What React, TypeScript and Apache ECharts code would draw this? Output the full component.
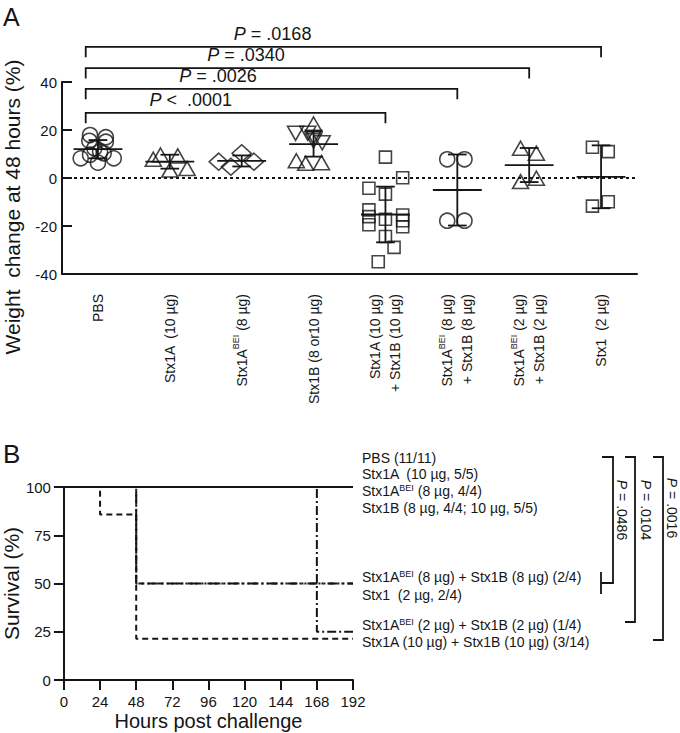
import React, { useEffect, useRef } from 'react';
import * as echarts from 'echarts';

const FONT = '"Liberation Sans", Arial, Helvetica, sans-serif';
const INK = '#151515';

// ---------- Panel A data ----------
const groupNames = [
  'PBS',
  'Stx1A  (10 µg)',
  'Stx1ABEI (8 µg)',
  'Stx1B (8 or10 µg)',
  'Stx1A (10 µg)\n+ Stx1B (10 µg)',
  'Stx1ABEI (8 µg)\n+ Stx1B (8 µg)',
  'Stx1ABEI (2 µg)\n+ Stx1B (2 µg)',
  'Stx1  (2 µg)',
];

const pbsWeight = [17.9, 15.5, 17.0, 15.1, 12.4, 11.0, 8.2, 6.4, 8.2, 10.3, 9.7];
const pbsJitter = [-0.11, -0.12, 0.11, 0.11, -0.05, 0.03, -0.24, 0, 0.22, 0.08, -0.11];

const stx1aWeight = [7.8, 9.6, 9.2, 3.3, 4.0];
const stx1aJitter = [-0.23, -0.13, 0.11, 0, 0.24];

const stx1aBeiWeight = [6.8, 4.7, 10.3, 6.8];
const stx1aBeiJitter = [-0.32, -0.15, 0, 0.17];

const stx1bWeight = [22.5, 7.2, 6.1, 6.4, 18.6, 18.6, 14.7, 17.0, 15.5];
const stx1bJitter = [0, -0.24, -0.11, 0.11, -0.25, -0.08, 0.12, 0, 0];
const stx1bDown = [false, false, false, false, true, true, true, true, true];

const combo10Weight = [8.7, 0.1, -4.3, -6.7, -13.3, -16.1, -19.5, -17.2, -15.4, -17.8, -20.3, -24.4, -28.9, -34.9];
const combo10Jitter = [0, 0.24, -0.23, 0, -0.23, -0.23, -0.23, 0, 0.24, 0.24, 0.24, 0, 0.12, -0.1];

const combo8Weight = [7.8, 7.8, -17.8, -17.8];
const combo8Jitter = [-0.14, 0.1, -0.14, 0.1];

const combo2Weight = [12.4, 10.3, -1.5, -0.1];
const combo2Jitter = [-0.12, 0.1, -0.12, 0.1];

const stx1Weight = [12.8, 11.0, -11.7, -9.9];
const stx1Jitter = [-0.12, 0.1, -0.12, 0.1];

const weightMean = [12.0, 6.8, 7.1, 14.1, -15.2, -5.0, 5.4, 0.5];
const weightSD = [3.8, 2.9, 2.3, 5.2, 11.6, 14.8, 7.1, 13.1];

const bracketTargets = [4, 5, 6, 7];
const bracketPValues = ['<  .0001', '= .0026', '= .0340', '= .0168'];
const bracketLevels = [27.1, 37.1, 45.8, 54.6];
const bracketLabelAt = [1.29, 1.67, 2.06, 2.43];

// ---------- Panel B data ----------
const survAllSurvive = [[0, 100], [192, 100]];
const survCombo10 = [[0, 100], [24, 85.7], [48, 21.4], [192, 21.4]];
const survCombo8 = [[0, 100], [48, 50], [192, 50]];
const survStx1 = [[0, 100], [48, 50], [192, 50]];
const survCombo2 = [[0, 100], [168, 25], [192, 25]];

const survLabels = [
  'PBS (11/11)',
  'Stx1A  (10 µg, 5/5)',
  'Stx1ABEI (8 µg, 4/4)',
  'Stx1B (8 µg, 4/4; 10 µg, 5/5)',
  'Stx1ABEI (8 µg) + Stx1B (8 µg) (2/4)',
  'Stx1  (2 µg, 2/4)',
  'Stx1ABEI (2 µg) + Stx1B (2 µg) (1/4)',
  'Stx1A (10 µg) + Stx1B (10 µg) (3/14)',
];
const survPValues = ['= .0486', '= .0104', '= .0016'];

// ---------- helpers ----------
const sup = (s: string) => s.replace(/BEI/g, '{sup|BEI}');

function scatterSeries(values: number[], jitter: number[], gi: number, symbol: string, size: any, down?: boolean[]) {
  return {
    type: 'scatter',
    xAxisIndex: 1,
    yAxisIndex: 0,
    symbol,
    symbolSize: size,
    itemStyle: { color: 'rgba(0,0,0,0)', borderColor: INK, borderWidth: 1.6 },
    z: 2,
    data: values.map((v, j) => ({
      value: [gi + jitter[j], v],
      symbolRotate: down && down[j] ? 180 : 0,
    })),
  };
}

function buildOption() {
  const textBase = { fontFamily: FONT, fill: INK };
  const series: any[] = [
    {
      ...scatterSeries(pbsWeight, pbsJitter, 0, 'circle', 15),
      markLine: {
        silent: true,
        symbol: ['none', 'none'],
        label: { show: false },
        lineStyle: { color: INK, type: [3, 3], width: 1.8 },
        data: [{ yAxis: 0 }],
      },
    },
    scatterSeries(stx1aWeight, stx1aJitter, 1, 'triangle', [16, 14]),
    scatterSeries(stx1aBeiWeight, stx1aBeiJitter, 2, 'diamond', [19, 17]),
    scatterSeries(stx1bWeight, stx1bJitter, 3, 'triangle', [16, 14], stx1bDown),
    scatterSeries(combo10Weight, combo10Jitter, 4, 'rect', 12),
    scatterSeries(combo8Weight, combo8Jitter, 5, 'circle', 15),
    scatterSeries(combo2Weight, combo2Jitter, 6, 'triangle', [16, 14]),
    scatterSeries(stx1Weight, stx1Jitter, 7, 'rect', 12),
    {
      type: 'custom',
      xAxisIndex: 1,
      yAxisIndex: 0,
      z: 3,
      data: weightMean.map((m, i) => [i, m, weightSD[i]]),
      renderItem: (_p: any, api: any) => {
        const x = api.value(0), m = api.value(1), s = api.value(2);
        const st = { stroke: INK, lineWidth: 1.8 };
        const L = (a: number[], b: number[]) => ({
          type: 'line',
          shape: { x1: a[0], y1: a[1], x2: b[0], y2: b[1] },
          style: st,
        });
        return {
          type: 'group',
          children: [
            L(api.coord([x - 0.34, m]), api.coord([x + 0.34, m])),
            L(api.coord([x, m + s]), api.coord([x, m - s])),
            L(api.coord([x - 0.13, m + s]), api.coord([x + 0.13, m + s])),
            L(api.coord([x - 0.13, m - s]), api.coord([x + 0.13, m - s])),
          ],
        };
      },
    },
    {
      type: 'custom',
      xAxisIndex: 1,
      yAxisIndex: 0,
      z: 3,
      clip: false,
      data: bracketTargets.map((t, i) => [t, bracketLevels[i], bracketLabelAt[i], i]),
      renderItem: (_p: any, api: any) => {
        const t = api.value(0), lv = api.value(1), lx = api.value(2), idx = api.value(3);
        const left = -0.17, drop = 4.3;
        const pts = [
          api.coord([left, lv - drop]),
          api.coord([left, lv]),
          api.coord([t, lv]),
          api.coord([t, lv - drop]),
        ];
        const tp = api.coord([lx, lv]);
        return {
          type: 'group',
          children: [
            { type: 'polyline', shape: { points: pts }, style: { stroke: INK, lineWidth: 1.8, fill: 'none' } },
            {
              type: 'text',
              x: tp[0],
              y: tp[1] - 4,
              style: {
                text: '{i|P} ' + bracketPValues[idx],
                fontSize: 18,
                fontFamily: FONT,
                fill: INK,
                align: 'center',
                verticalAlign: 'bottom',
                textAlign: 'center',
                textVerticalAlign: 'bottom',
                rich: { i: { fontStyle: 'italic', fontSize: 18, fontFamily: FONT, fill: INK } },
              },
            },
          ],
        };
      },
    },
  ];

  const survLine = (data: number[][], type: any) => ({
    type: 'line',
    xAxisIndex: 2,
    yAxisIndex: 1,
    step: 'end',
    symbol: 'none',
    clip: false,
    lineStyle: { color: INK, width: 2, type },
    data,
  });
  series.push(
    survLine(survCombo10, [6, 4]),
    survLine(survCombo2, [9, 3, 2, 3]),
    survLine(survStx1, [6, 3, 2, 3, 2, 3]),
    survLine(survCombo8, [10, 4, 2, 4]),
    survLine(survAllSurvive, 'solid'),
  );

  const labelYs = [458, 474, 491, 508, 577, 595, 625, 642];
  const graphics: any[] = [
    { type: 'text', x: 3, y: 4, style: { ...textBase, text: 'A', fontSize: 25 } },
    { type: 'text', x: 3, y: 441, style: { ...textBase, text: 'B', fontSize: 26 } },
    {
      type: 'text',
      x: 12,
      y: 207,
      rotation: Math.PI / 2,
      style: {
        ...textBase,
        text: 'Weight  change at 48 hours (%)',
        fontSize: 21,
        align: 'center',
        verticalAlign: 'middle',
        textAlign: 'center',
        textVerticalAlign: 'middle',
      },
    },
  ];
  survLabels.forEach((s, i) => {
    graphics.push({
      type: 'text',
      x: 362,
      y: labelYs[i],
      style: {
        ...textBase,
        text: sup(s),
        fontSize: 14,
        lineHeight: 16,
        verticalAlign: 'middle',
        textVerticalAlign: 'middle',
        rich: { sup: { fontSize: 9, lineHeight: 16, verticalAlign: 'top', fontFamily: FONT, fill: INK } },
      },
    });
  });
  const br = [
    { l: 602, x: 613, b: 583, tx: 622, ty: 510 },
    { l: 625, x: 635, b: 622, tx: 646, ty: 510 },
    { l: 653, x: 663, b: 640, tx: 672, ty: 508 },
  ];
  br.forEach((k, i) => {
    graphics.push({
      type: 'polyline',
      shape: { points: [[k.l, 457], [k.x, 457], [k.x, k.b], [k.l - (i === 0 ? 1 : 0), k.b]] },
      style: { stroke: INK, lineWidth: 1.8, fill: 'none' },
    });
    graphics.push({
      type: 'text',
      x: k.tx,
      y: k.ty,
      rotation: -Math.PI / 2,
      style: {
        ...textBase,
        text: '{i|P} ' + survPValues[i],
        fontSize: 14,
        align: 'center',
        verticalAlign: 'middle',
        textAlign: 'center',
        textVerticalAlign: 'middle',
        rich: { i: { fontStyle: 'italic', fontSize: 14, fontFamily: FONT, fill: INK } },
      },
    });
  });
  graphics.push({
    type: 'line',
    shape: { x1: 601, y1: 572, x2: 601, y2: 594 },
    style: { stroke: INK, lineWidth: 1.8 },
  });

  const axisLine = { onZero: false, lineStyle: { color: INK, width: 2 } };
  const axisTick = { lineStyle: { color: INK, width: 2 } };
  const lbl = { color: INK, fontFamily: FONT, fontSize: 14 };

  return {
    animation: false,
    backgroundColor: '#ffffff',
    grid: [
      { left: 62, top: 82, width: 575, height: 192, containLabel: false },
      { left: 55, top: 487, width: 298, height: 193, containLabel: false },
    ],
    xAxis: [
      {
        type: 'category',
        gridIndex: 0,
        data: groupNames,
        axisLine,
        axisTick: { ...axisTick, alignWithLabel: true, length: 10 },
        axisLabel: {
          ...lbl,
          interval: 0,
          rotate: 90,
          margin: 20,
          lineHeight: 20,
          formatter: (v: string) => sup(v),
          rich: { sup: { fontSize: 9, lineHeight: 20, verticalAlign: 'top', fontFamily: FONT, color: INK } },
        },
        splitLine: { show: false },
      },
      { type: 'value', gridIndex: 0, min: -0.5, max: 7.5, show: false, axisLine: { onZero: false } },
      {
        type: 'value',
        gridIndex: 1,
        min: 0,
        max: 192,
        interval: 24,
        axisLine,
        axisTick: { ...axisTick, length: 10 },
        axisLabel: { ...lbl, fontSize: 15, margin: 14 },
        splitLine: { show: false },
        name: 'Hours post challenge',
        nameLocation: 'middle',
        nameGap: 31,
        nameTextStyle: { color: INK, fontFamily: FONT, fontSize: 20 },
      },
    ],
    yAxis: [
      {
        type: 'value',
        gridIndex: 0,
        min: -40,
        max: 40,
        interval: 20,
        axisLine: { ...axisLine, show: true },
        axisTick: { ...axisTick, show: true, inside: true, length: 10 },
        axisLabel: { ...lbl, fontSize: 15, margin: 5 },
        splitLine: { show: false },
      },
      {
        type: 'value',
        gridIndex: 1,
        min: 0,
        max: 100,
        interval: 25,
        axisLine: { ...axisLine, show: true },
        axisTick: { ...axisTick, show: true, length: 10 },
        axisLabel: { ...lbl, fontSize: 15, margin: 13 },
        splitLine: { show: false },
        name: 'Survival (%)',
        nameLocation: 'middle',
        nameGap: 36,
        nameTextStyle: { color: INK, fontFamily: FONT, fontSize: 21 },
      },
    ],
    graphic: graphics,
    series,
  };
}

export default function App() {
  const ref = useRef<HTMLDivElement>(null);
  useEffect(() => {
    document.body.style.margin = '0';
    const chart = echarts.init(ref.current!, undefined, { renderer: 'svg' });
    chart.setOption(buildOption() as any);
    return () => chart.dispose();
  }, []);
  return <div ref={ref} style={{ width: 680, height: 733 }} />;
}
